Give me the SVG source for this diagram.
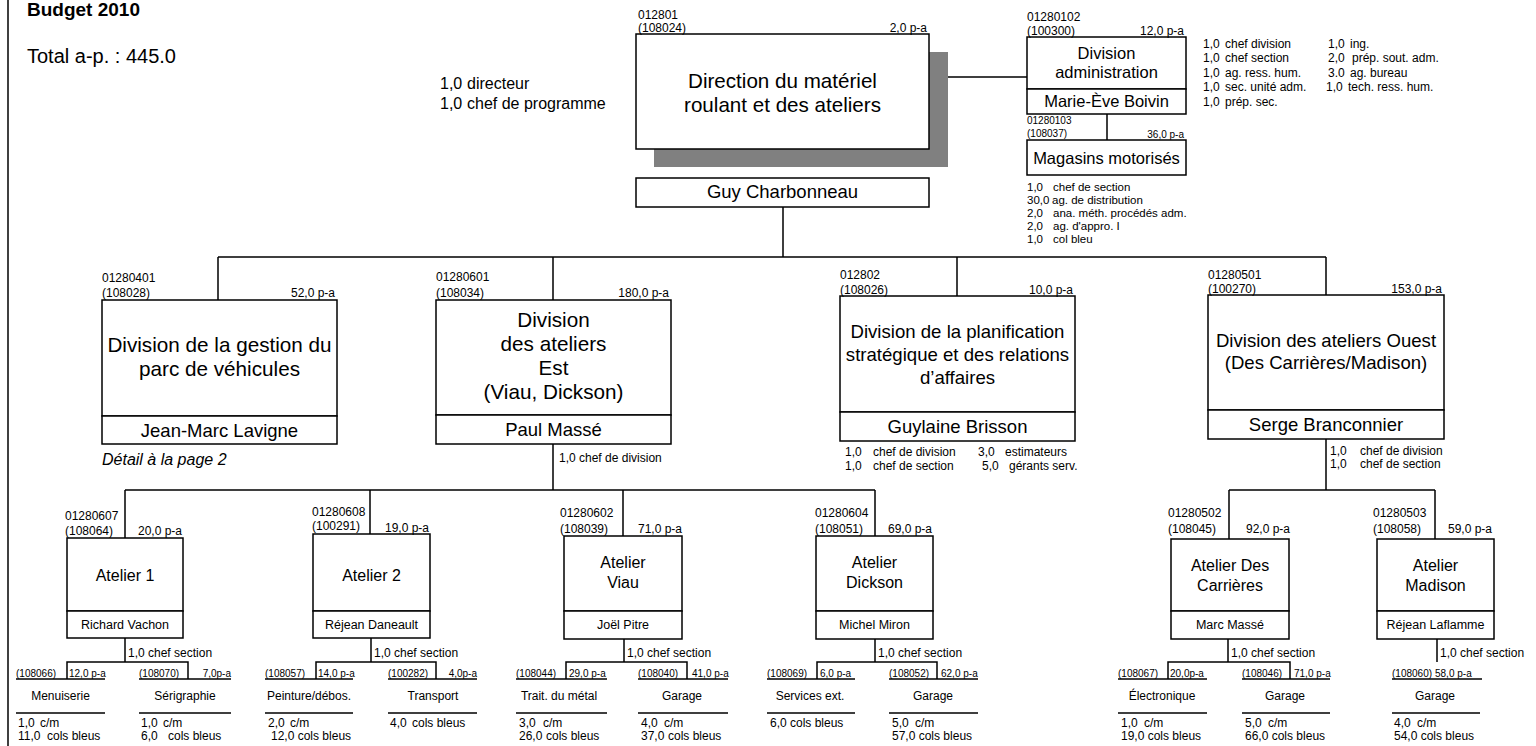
<svg xmlns="http://www.w3.org/2000/svg" width="1536" height="746" viewBox="0 0 1536 746">
<style>
.b{fill:#fff;stroke:#000;stroke-width:1.5}
.l{fill:none;stroke:#000;stroke-width:1.5}
text{font-family:"Liberation Sans",Arial,Helvetica,sans-serif;fill:#000}
.c12{font-size:12px}
.c10{font-size:10px}
.s12{font-size:12px}
.s11{font-size:11.5px}
.m{text-anchor:middle}
.e{text-anchor:end}
.t21{font-size:20.7px}
.t19{font-size:18.6px}
.n18{font-size:18.5px}
.t16{font-size:16px}
.n12{font-size:12.5px}
.d{font-size:16px}
</style>
<rect width="1536" height="746" fill="#fff"/>
<line x1="8" y1="0" x2="8" y2="746" class="l"/>

<g id="header">
<text x="27" y="16" font-size="19" font-weight="bold">Budget 2010</text>
<text x="27" y="63" font-size="20">Total a-p. : 445.0</text>
</g>

<g id="connectors">
<path class="l" d="M929,77H1027 M1107,114V140 M783,207V257 M218,257H1326 M218,257V300 M553,257V300 M957,257V296 M1326,257V295"/>
<path class="l" d="M553,444V490 M125,490H875 M125,490V538 M370,490V534 M623,490V536 M875,490V536"/>
<path class="l" d="M1326,439V490 M1229,490H1435 M1229,490V539 M1435,490V539"/>
<path class="l" d="M125,638V662 M67,679V662H188V679 M371,638V662 M316,679V662H436V679 M624,639V662 M566,679V662H687V679 M875,639V662 M817,679V662H937V679 M1228,639V662 M1168,679V662H1290V679 M1437,639V662"/>
</g>

<g id="n-direction">
<rect x="654" y="52" width="294" height="115" fill="#808080"/>
<rect class="b" x="636" y="34" width="293" height="115"/>
<text class="m" x="782.5" y="88" font-size="20.6">Direction du matériel</text>
<text class="m" x="782.5" y="112" font-size="20.6">roulant et des ateliers</text>
<text class="c12" x="638" y="19">012801</text>
<text class="c12" x="638" y="32">(108024)</text>
<text class="c12 e" x="927" y="32">2,0 p-a</text>
<rect class="b" x="636" y="178" width="293" height="29"/>
<text class="m n18" x="782.5" y="198">Guy Charbonneau</text>
</g>

<g id="n-direction-staff">
<text class="d" x="440" y="89">1,0</text><text class="d" x="467" y="89">directeur</text>
<text class="d" x="440" y="109">1,0</text><text class="d" x="467" y="109">chef de programme</text>
</g>

<g id="n-admin">
<rect class="b" x="1027" y="37" width="159" height="52"/>
<rect class="b" x="1027" y="89" width="159" height="25"/>
<text class="m" x="1106.5" y="59" font-size="16.5">Division</text>
<text class="m" x="1106.5" y="78" font-size="16.5">administration</text>
<text class="m" x="1106.5" y="107" font-size="16.5">Marie-Ève Boivin</text>
<text class="c12" x="1027" y="21">01280102</text>
<text class="c12" x="1027" y="35">(100300)</text>
<text class="c12 e" x="1184" y="35">12,0 p-a</text>
<text class="s12" x="1203" y="48">1,0</text><text class="s12" x="1225" y="48">chef division</text>
<text class="s12" x="1203" y="62">1,0</text><text class="s12" x="1225" y="62">chef section</text>
<text class="s12" x="1203" y="77">1,0</text><text class="s12" x="1225" y="77">ag. ress. hum.</text>
<text class="s12" x="1203" y="91">1,0</text><text class="s12" x="1225" y="91">sec. unité adm.</text>
<text class="s12" x="1203" y="106">1,0</text><text class="s12" x="1225" y="106">prép. sec.</text>
<text class="s12" x="1328" y="48">1,0</text><text class="s12" x="1350" y="48">ing.</text>
<text class="s12" x="1328" y="62">2,0</text><text class="s12" x="1352" y="62">prép. sout. adm.</text>
<text class="s12" x="1328" y="77">3.0</text><text class="s12" x="1350" y="77">ag. bureau</text>
<text class="s12" x="1326" y="91">1,0</text><text class="s12" x="1348" y="91">tech. ress. hum.</text>
</g>

<g id="n-magasins">
<rect class="b" x="1027" y="140" width="159" height="35"/>
<text class="m" x="1106.5" y="164" font-size="16.5">Magasins motorisés</text>
<text class="c10" x="1027" y="124">01280103</text>
<text class="c10" x="1027" y="137">(108037)</text>
<text class="c10 e" x="1184" y="138">36,0 p-a</text>
<text class="s11" x="1027" y="191">1,0</text><text class="s11" x="1053" y="191">chef de section</text>
<text class="s11" x="1027" y="204">30,0</text><text class="s11" x="1052" y="204">ag. de distribution</text>
<text class="s11" x="1027" y="217">2,0</text><text class="s11" x="1053" y="217">ana. méth. procédés adm.</text>
<text class="s11" x="1027" y="230">2,0</text><text class="s11" x="1053" y="230">ag. d'appro. I</text>
<text class="s11" x="1027" y="243">1,0</text><text class="s11" x="1053" y="243">col bleu</text>
</g>

<g id="n-gestion">
<rect class="b" x="102" y="300" width="235" height="116"/>
<rect class="b" x="102" y="416" width="235" height="28"/>
<text class="m t21" x="219.5" y="352">Division de la gestion du</text>
<text class="m t21" x="219.5" y="376">parc de véhicules</text>
<text class="m n18" x="219.5" y="437">Jean-Marc Lavigne</text>
<text x="102" y="465" font-size="16" font-style="italic">Détail à la page 2</text>
<text class="c12" x="102" y="282">01280401</text>
<text class="c12" x="102" y="297">(108028)</text>
<text class="c12 e" x="335" y="297">52,0 p-a</text>
</g>

<g id="n-est">
<rect class="b" x="436" y="300" width="235" height="115"/>
<rect class="b" x="436" y="415" width="235" height="29"/>
<text class="m t21" x="553.5" y="327">Division</text>
<text class="m t21" x="553.5" y="351">des ateliers</text>
<text class="m t21" x="553.5" y="375">Est</text>
<text class="m t21" x="553.5" y="399">(Viau, Dickson)</text>
<text class="m n18" x="553.5" y="436">Paul Massé</text>
<text class="c12" x="436" y="281">01280601</text>
<text class="c12" x="436" y="297">(108034)</text>
<text class="c12 e" x="669" y="297">180,0 p-a</text>
<text class="s12" x="559" y="462">1,0 chef de division</text>
</g>

<g id="n-planif">
<rect class="b" x="840" y="296" width="235" height="116"/>
<rect class="b" x="840" y="412" width="235" height="29"/>
<text class="m t19" x="957.5" y="338">Division de la planification</text>
<text class="m t19" x="957.5" y="361">stratégique et des relations</text>
<text class="m t19" x="957.5" y="384">d’affaires</text>
<text class="m n18" x="957.5" y="433">Guylaine Brisson</text>
<text class="c12" x="840" y="279">012802</text>
<text class="c12" x="840" y="294">(108026)</text>
<text class="c12 e" x="1073" y="294">10,0 p-a</text>
<text class="s12" x="845" y="456">1,0</text><text class="s12" x="873" y="456">chef de division</text>
<text class="s12" x="978" y="456">3,0</text><text class="s12" x="1005" y="456">estimateurs</text>
<text class="s12" x="845" y="470">1,0</text><text class="s12" x="873" y="470">chef de section</text>
<text class="s12" x="982" y="470">5,0</text><text class="s12" x="1009" y="470">gérants serv.</text>
</g>

<g id="n-ouest">
<rect class="b" x="1208" y="295" width="236" height="115"/>
<rect class="b" x="1208" y="410" width="236" height="29"/>
<text class="m t19" x="1326" y="347">Division des ateliers Ouest</text>
<text class="m t19" x="1326" y="369">(Des Carrières/Madison)</text>
<text class="m n18" x="1326" y="431">Serge Branconnier</text>
<text class="c12" x="1208" y="279">01280501</text>
<text class="c12" x="1208" y="293">(100270)</text>
<text class="c12 e" x="1442" y="293">153,0 p-a</text>
<text class="s12" x="1330" y="455">1,0</text><text class="s12" x="1360" y="455">chef de division</text>
<text class="s12" x="1330" y="468">1,0</text><text class="s12" x="1360" y="468">chef de section</text>
</g>

<g id="n-atelier1">
<rect class="b" x="67" y="538" width="116" height="73"/>
<rect class="b" x="67" y="611" width="116" height="27"/>
<text class="m t16" x="125" y="581">Atelier 1</text>
<text class="m n12" x="125" y="629">Richard Vachon</text>
<text class="c12" x="65" y="520">01280607</text>
<text class="c12" x="65" y="535">(108064)</text>
<text class="c12" x="138" y="535">20,0 p-a</text>
<text class="s12" x="128" y="657">1,0  chef section</text>
</g>

<g id="n-atelier2">
<rect class="b" x="313" y="534" width="117" height="77"/>
<rect class="b" x="313" y="611" width="117" height="27"/>
<text class="m t16" x="371.5" y="581">Atelier 2</text>
<text class="m n12" x="371.5" y="629">Réjean Daneault</text>
<text class="c12" x="312" y="516">01280608</text>
<text class="c12" x="312" y="530">(100291)</text>
<text class="c12" x="385" y="532">19,0 p-a</text>
<text class="s12" x="374" y="657">1,0  chef section</text>
</g>

<g id="n-viau">
<rect class="b" x="564" y="536" width="118" height="75"/>
<rect class="b" x="564" y="611" width="118" height="28"/>
<text class="m t16" x="623" y="568">Atelier</text>
<text class="m t16" x="623" y="588">Viau</text>
<text class="m n12" x="623" y="629">Joël Pitre</text>
<text class="c12" x="560" y="517">01280602</text>
<text class="c12" x="560" y="533">(108039)</text>
<text class="c12" x="638" y="533">71,0 p-a</text>
<text class="s12" x="627" y="657">1,0  chef section</text>
</g>

<g id="n-dickson">
<rect class="b" x="816" y="536" width="117" height="75"/>
<rect class="b" x="816" y="611" width="117" height="28"/>
<text class="m t16" x="874.5" y="568">Atelier</text>
<text class="m t16" x="874.5" y="588">Dickson</text>
<text class="m n12" x="874.5" y="629">Michel Miron</text>
<text class="c12" x="815" y="517">01280604</text>
<text class="c12" x="815" y="533">(108051)</text>
<text class="c12" x="888" y="533">69,0 p-a</text>
<text class="s12" x="878" y="657">1,0  chef section</text>
</g>

<g id="n-descarrieres">
<rect class="b" x="1171" y="539" width="118" height="72"/>
<rect class="b" x="1171" y="611" width="118" height="28"/>
<text class="m t16" x="1230" y="571">Atelier Des</text>
<text class="m t16" x="1230" y="591">Carrières</text>
<text class="m n12" x="1230" y="629">Marc Massé</text>
<text class="c12" x="1168" y="517">01280502</text>
<text class="c12" x="1168" y="533">(108045)</text>
<text class="c12" x="1246" y="533">92,0 p-a</text>
<text class="s12" x="1231" y="657">1,0  chef section</text>
</g>

<g id="n-madison">
<rect class="b" x="1377" y="539" width="117" height="72"/>
<rect class="b" x="1377" y="611" width="117" height="28"/>
<text class="m t16" x="1435.5" y="571">Atelier</text>
<text class="m t16" x="1435.5" y="591">Madison</text>
<text class="m n12" x="1435.5" y="629">Réjean Laflamme</text>
<text class="c12" x="1373" y="517">01280503</text>
<text class="c12" x="1373" y="533">(108058)</text>
<text class="c12" x="1448" y="533">59,0 p-a</text>
<text class="s12" x="1440" y="657">1,0  chef section</text>
</g>

<g id="n-menuiserie">
<path class="l" d="M16,679H105 M16,713H105"/>
<text class="c10" x="16" y="677">(108066)</text><text class="c10" x="69" y="677">12,0 p-a</text>
<text class="m s12" x="60.5" y="700">Menuiserie</text>
<text class="s12" x="18" y="727">1,0</text><text class="s12" x="40" y="727">c/m</text>
<text class="s12" x="18" y="740">11,0</text><text class="s12" x="47" y="740">cols bleus</text>
</g>

<g id="n-serigraphie">
<path class="l" d="M139,679H231 M139,713H231"/>
<text class="c10" x="139" y="677">(108070)</text><text class="c10 e" x="231" y="677">7,0p-a</text>
<text class="m s12" x="185" y="700">Sérigraphie</text>
<text class="s12" x="141" y="727">1,0</text><text class="s12" x="163" y="727">c/m</text>
<text class="s12" x="141" y="740">6,0</text><text class="s12" x="168" y="740">cols bleus</text>
</g>

<g id="n-peinture">
<path class="l" d="M265,679H353 M265,713H353"/>
<text class="c10" x="265" y="677">(108057)</text><text class="c10" x="318" y="677">14,0 p-a</text>
<text class="m s12" x="309" y="700">Peinture/débos.</text>
<text class="s12" x="268" y="727">2,0</text><text class="s12" x="290" y="727">c/m</text>
<text class="s12" x="271" y="740">12,0 cols bleus</text>
</g>

<g id="n-transport">
<path class="l" d="M388,679H477 M388,713H477"/>
<text class="c10" x="388" y="677">(100282)</text><text class="c10 e" x="477" y="677">4,0p-a</text>
<text class="m s12" x="433" y="700">Transport</text>
<text class="s12" x="390" y="727">4,0</text><text class="s12" x="412" y="727">cols bleus</text>
</g>

<g id="n-metal">
<path class="l" d="M516,679H607 M516,713H607"/>
<text class="c10" x="516" y="677">(108044)</text><text class="c10" x="569" y="677">29,0 p-a</text>
<text class="m s12" x="559" y="700">Trait. du métal</text>
<text class="s12" x="519" y="727">3,0</text><text class="s12" x="543" y="727">c/m</text>
<text class="s12" x="519" y="740">26,0</text><text class="s12" x="546" y="740">cols bleus</text>
</g>

<g id="n-garage-viau">
<path class="l" d="M638,679H728 M638,713H728"/>
<text class="c10" x="638" y="677">(108040)</text><text class="c10" x="692" y="677">41,0 p-a</text>
<text class="m s12" x="682" y="700">Garage</text>
<text class="s12" x="641" y="727">4,0</text><text class="s12" x="664" y="727">c/m</text>
<text class="s12" x="641" y="740">37,0</text><text class="s12" x="668" y="740">cols bleus</text>
</g>

<g id="n-services">
<path class="l" d="M767,679H855 M767,713H855"/>
<text class="c10" x="767" y="677">(108069)</text><text class="c10" x="820" y="677">6,0 p-a</text>
<text class="m s12" x="810" y="700">Services ext.</text>
<text class="s12" x="770" y="727">6,0</text><text class="s12" x="790" y="727">cols bleus</text>
</g>

<g id="n-garage-dickson">
<path class="l" d="M889,679H978 M889,713H978"/>
<text class="c10" x="889" y="677">(108052)</text><text class="c10" x="941" y="677">62,0 p-a</text>
<text class="m s12" x="933" y="700">Garage</text>
<text class="s12" x="892" y="727">5,0</text><text class="s12" x="915" y="727">c/m</text>
<text class="s12" x="892" y="740">57,0 cols bleus</text>
</g>

<g id="n-electronique">
<path class="l" d="M1118,679H1207 M1118,713H1207"/>
<text class="c10" x="1118" y="677">(108067)</text><text class="c10" x="1170" y="677">20,0p-a</text>
<text class="m s12" x="1162" y="700">Électronique</text>
<text class="s12" x="1121" y="727">1,0</text><text class="s12" x="1144" y="727">c/m</text>
<text class="s12" x="1121" y="740">19,0 cols bleus</text>
</g>

<g id="n-garage-carrieres">
<path class="l" d="M1242,679H1330 M1242,713H1330"/>
<text class="c10" x="1242" y="677">(108046)</text><text class="c10" x="1294" y="677">71,0 p-a</text>
<text class="m s12" x="1285" y="700">Garage</text>
<text class="s12" x="1245" y="727">5,0</text><text class="s12" x="1268" y="727">c/m</text>
<text class="s12" x="1245" y="740">66,0 cols bleus</text>
</g>

<g id="n-garage-madison">
<path class="l" d="M1392,679H1482 M1392,713H1480"/>
<text class="c10" x="1392" y="677">(108060)</text><text class="c10" x="1435" y="677">58,0 p-a</text>
<text class="m s12" x="1435" y="700">Garage</text>
<text class="s12" x="1394" y="727">4,0</text><text class="s12" x="1417" y="727">c/m</text>
<text class="s12" x="1394" y="740">54,0 cols bleus</text>
</g>
</svg>
